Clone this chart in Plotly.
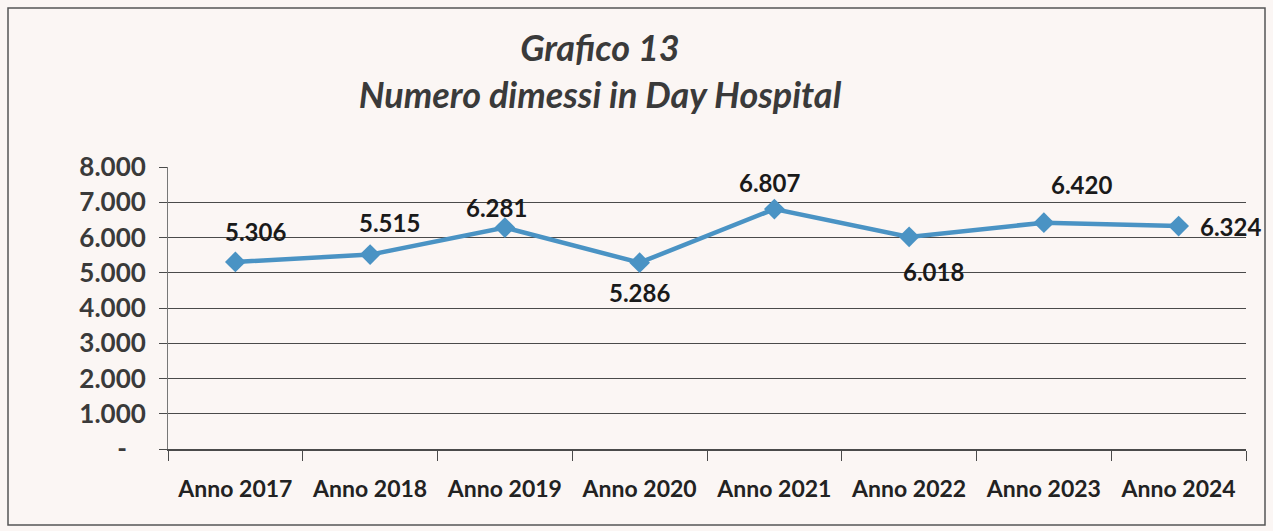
import plotly.graph_objects as go

categories = ["Anno 2017", "Anno 2018", "Anno 2019", "Anno 2020",
              "Anno 2021", "Anno 2022", "Anno 2023", "Anno 2024"]
values = [5306, 5515, 6281, 5286, 6807, 6018, 6420, 6324]
value_labels = ["5.306", "5.515", "6.281", "5.286", "6.807", "6.018", "6.420", "6.324"]
y_tick_vals = [0, 1000, 2000, 3000, 4000, 5000, 6000, 7000, 8000]
y_tick_text = ["-\u00a0\u00a0\u00a0", "1.000", "2.000", "3.000", "4.000", "5.000", "6.000", "7.000", "8.000"]

# label offsets (pixels) relative to each point
label_shifts = [(20, 30), (19, 32), (-8, 20), (0, -30), (-5, 27), (24, -35), (38, 38), (52, 0)]

line_color = "#4a93c4"
grid_color = "#4a4a4a"
bg = "#fbf6f4"
FONT = "Lato, Open Sans, sans-serif"

fig = go.Figure()
fig.add_trace(go.Scatter(
    x=categories, y=values, mode="lines+markers",
    line=dict(color=line_color, width=4.5),
    marker=dict(symbol="diamond", size=16, color=line_color),
    hoverinfo="x+y", showlegend=False,
))

for c, v, t, (dx, dy) in zip(categories, values, value_labels, label_shifts):
    fig.add_annotation(x=c, y=v, text=t, showarrow=False, xshift=dx, yshift=dy,
                       font=dict(family=FONT, size=24, color="#1a1a1a", weight="bold"))

fig.update_layout(
    width=1273, height=531,
    margin=dict(l=168, r=27, t=167, b=82),
    paper_bgcolor=bg, plot_bgcolor=bg,
    title=dict(
        text="<i><b>Grafico 13</b></i><br><i><b>Numero dimessi in Day Hospital</b></i>",
        x=600 / 1273, xanchor="center", y=1 - 61 / 531, yanchor="middle",
        font=dict(family=FONT, size=36, color="#3a3a3a"),
    ),
    xaxis=dict(
        type="category", showgrid=False, showline=True, linecolor=grid_color, linewidth=1.5,
        ticks="outside", tickson="boundaries", ticklen=10, tickcolor=grid_color,
        ticklabelstandoff=19,
        tickfont=dict(family=FONT, size=23, color="#222", weight="bold"),
        range=[-0.5, 7.5],
    ),
    yaxis=dict(
        range=[0, 8000], tickmode="array", tickvals=y_tick_vals, ticktext=y_tick_text,
        showgrid=True, gridcolor=grid_color, gridwidth=1.3, zeroline=False,
        showline=True, linecolor="#777", linewidth=1,
        ticks="outside", ticklen=8, tickcolor=grid_color,
        ticklabelstandoff=8,
        tickfont=dict(family=FONT, size=26, color="#3a3a3a", weight="bold"),
    ),
    shapes=[dict(type="rect", xref="paper", yref="paper",
                 x0=(8 - 168) / 1078, x1=(1265 - 168) / 1078,
                 y0=(449 - 525) / 282, y1=(449 - 8) / 282,
                 line=dict(color="#555", width=1.5), fillcolor="rgba(0,0,0,0)", layer="below")],
)

fig.write_html("out.html", config={"displayModeBar": False},
               post_script="document.body.style.margin='0';")
